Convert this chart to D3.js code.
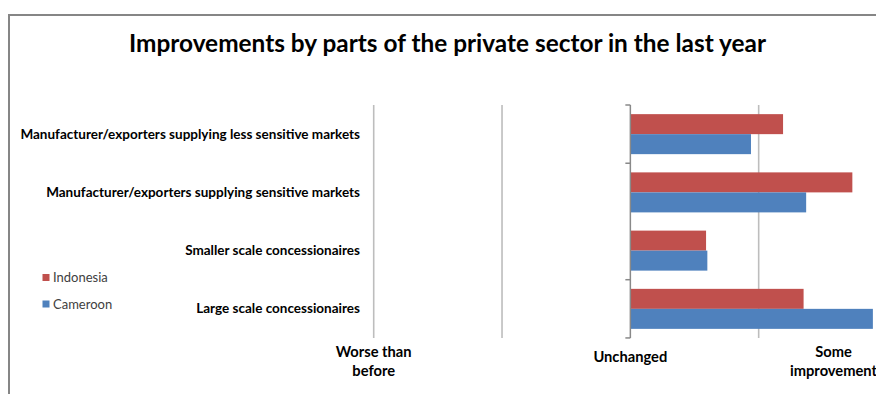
<!DOCTYPE html>
<html>
<head>
<meta charset="utf-8">
<script src="https://cdn.jsdelivr.net/npm/d3@7"></script>
<style>
  html, body { margin: 0; padding: 0; background: #fff; overflow: hidden; }
  svg { display: block; }
</style>
</head>
<body>
<svg id="chart" width="876" height="394"></svg>
<script>
// Categories, top to bottom
const categories = [
  "Manufacturer/exporters supplying less sensitive markets",
  "Manufacturer/exporters supplying sensitive markets",
  "Smaller scale concessionaires",
  "Large scale concessionaires"
];
const seriesNames = ["Indonesia", "Cameroon"];
const indonesia = [1.19, 1.73, 0.59, 1.35];
const cameroon  = [0.94, 1.37, 0.60, 1.89];

// Value axis: labelled ticks and gridlines
const tickValues = [-2, 0, 2];
const tickLabels = [["Worse than", "before"], ["Unchanged"], ["Some", "improvement"]];
const gridValues = [-2, -1, 1, 2];

const titleText = "Improvements by parts of the private sector in the last year";

const colors = { Indonesia: "#C0504D", Cameroon: "#4F81BD" };
const FONT = "Lato, 'Open Sans', 'DejaVu Sans', sans-serif";

const svg = d3.select("#chart");

// Chart frame (right and bottom edges fall just outside the view)
const frame = { left: 9, top: 15, right: 879, bottom: 400 };
svg.append("rect")
  .attr("x", frame.left).attr("y", frame.top)
  .attr("width", frame.right - frame.left).attr("height", frame.bottom - frame.top)
  .attr("fill", "#fff").attr("stroke", "#868686").attr("stroke-width", 2);

// Squeeze or stretch a text run horizontally by factor k
function condense(sel, k) {
  sel.each(function () {
    const w = this.getComputedTextLength();
    d3.select(this).attr("textLength", w * k).attr("lengthAdjust", "spacingAndGlyphs");
  });
}

// Title
const title = svg.append("text")
  .attr("x", 447.5).attr("y", 51.7)
  .attr("text-anchor", "middle")
  .attr("font-family", FONT).attr("font-weight", 700).attr("font-size", 25)
  .attr("fill", "#000")
  .text(titleText);
condense(title, 0.975);

// Scales
const x = d3.scaleLinear().domain([-2, 2]).range([373.7, 887]);
const y = d3.scaleBand().domain(categories).range([105, 338])
  .paddingInner(0.313).paddingOuter(0.157);
const ySub = d3.scaleBand().domain(seriesNames).range([0, y.bandwidth()]);

const plot = svg.append("g");

// Gridlines
plot.selectAll("line.grid").data(gridValues).join("line")
  .attr("class", "grid")
  .attr("x1", d => x(d)).attr("x2", d => x(d))
  .attr("y1", 105).attr("y2", 338)
  .attr("stroke", "#BDBDBD").attr("stroke-width", 1.6);

// Bars
const rows = categories.map((c, i) => ({
  cat: c,
  values: [
    { name: "Indonesia", v: indonesia[i] },
    { name: "Cameroon", v: cameroon[i] }
  ]
}));
const groups = plot.selectAll("g.row").data(rows).join("g")
  .attr("class", "row")
  .attr("transform", d => `translate(0,${y(d.cat)})`);
groups.selectAll("rect").data(d => d.values).join("rect")
  .attr("x", d => x(Math.min(0, d.v)))
  .attr("y", d => ySub(d.name))
  .attr("width", d => Math.abs(x(d.v) - x(0)))
  .attr("height", ySub.bandwidth())
  .attr("fill", d => colors[d.name]);

// Category axis at zero, with ticks on band boundaries (the middle one is left off)
const step = y.step();
const r0 = y.range()[0];
const boundaries = d3.range(categories.length + 1).map(i => r0 + i * step);
plot.append("line")
  .attr("x1", x(0)).attr("x2", x(0))
  .attr("y1", 105).attr("y2", 338)
  .attr("stroke", "#898989").attr("stroke-width", 1.5);
plot.selectAll("line.ctick").data(boundaries.filter((d, i) => i !== 2)).join("line")
  .attr("class", "ctick")
  .attr("x1", x(0) - 5).attr("x2", x(0))
  .attr("y1", d => d).attr("y2", d => d)
  .attr("stroke", "#898989").attr("stroke-width", 1.5);

// Category labels, right aligned to the left of the plot
svg.selectAll("text.cat").data(categories).join("text")
  .attr("class", "cat")
  .attr("x", 360)
  .attr("y", d => y(d) + y.bandwidth() / 2 + 4.6)
  .attr("text-anchor", "end")
  .attr("font-family", FONT).attr("font-weight", 700).attr("font-size", 13.5)
  .attr("fill", "#000")
  .text(d => d);

// Value axis labels below the plot, kept inside the frame
const lineH = 19;
tickValues.forEach((v, i) => {
  const lines = tickLabels[i];
  const t = svg.append("text")
    .attr("font-family", FONT).attr("font-weight", 700).attr("font-size", 14.7)
    .attr("fill", "#000").attr("text-anchor", "middle");
  const firstBase = lines.length === 1 ? 361.7 : 357;
  lines.forEach((s, j) => {
    t.append("tspan").attr("y", firstBase + j * lineH).text(s);
  });
  let maxW = 0;
  t.selectAll("tspan").each(function () { maxW = Math.max(maxW, this.getComputedTextLength()); });
  const cx = Math.min(x(v), frame.right - 2 - maxW / 2);
  t.selectAll("tspan").attr("x", cx);
});

// Legend
const legend = svg.append("g");
seriesNames.forEach((name, i) => {
  const yy = 277.5 + i * 26.5;
  legend.append("rect")
    .attr("x", 42.5).attr("y", yy - 3.5)
    .attr("width", 7).attr("height", 7)
    .attr("fill", colors[name]);
  legend.append("text")
    .attr("x", 53).attr("y", yy + 4.5)
    .attr("font-family", FONT).attr("font-size", 13)
    .attr("fill", "#404040")
    .text(name);
});
</script>
</body>
</html>
